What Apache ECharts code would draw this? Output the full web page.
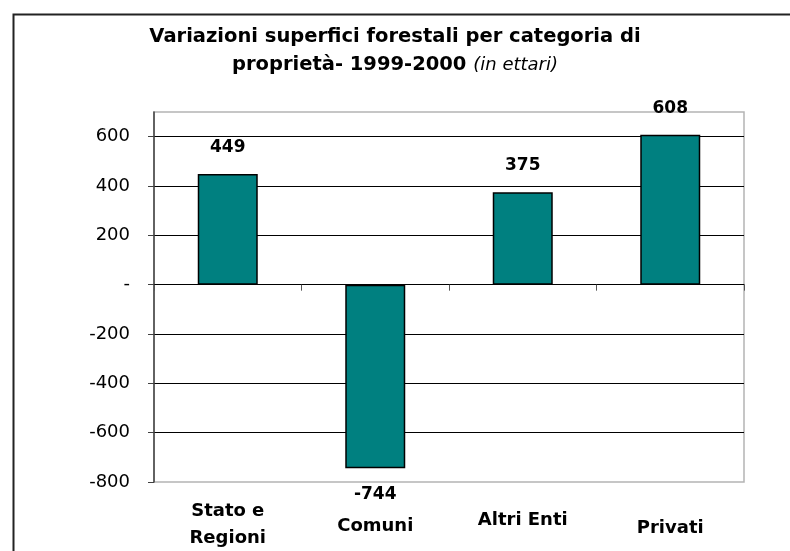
<!DOCTYPE html>
<html>
<head>
<meta charset="utf-8">
<title>Variazioni superfici forestali</title>
<script src="https://cdn.jsdelivr.net/npm/echarts@6/dist/echarts.min.js"></script>
<style>
  html, body { margin: 0; padding: 0; background: #fff; }
  #chart { width: 790px; height: 551px; }
</style>
</head>
<body>
<div id="chart"></div>
<script>
// dati
var categorie = ['Stato e\nRegioni', 'Comuni', 'Altri Enti', 'Privati'];
var variazioni = [449, -744, 375, 608];
var yMin = -800, yMax = 700, yStep = 200;

var font = 'DejaVu Sans, Verdana, sans-serif';

var chart = echarts.init(document.getElementById('chart'));
chart.setOption({
  backgroundColor: '#fff',
  animation: false,
  title: {
    left: 'center',
    top: 18,
    text: '{b|Variazioni superfici forestali per categoria di}\n{b|proprietà- 1999-2000 }{i|(in ettari)}',
    textStyle: {
      rich: {
        b: { fontFamily: font, fontSize: 19.5, fontWeight: 'bold', color: '#000', lineHeight: 28 },
        i: { fontFamily: font, fontSize: 18, fontStyle: 'italic', fontWeight: 'normal', color: '#000', lineHeight: 28 }
      }
    }
  },
  graphic: [{
    type: 'rect', left: 11, top: 12, silent: true,
    shape: { width: 820, height: 600 },
    style: { fill: 'none', stroke: '#222', lineWidth: 2 }
  }],
  grid: {
    left: 154, right: 46, top: 112, bottom: 69,
    show: true, borderColor: '#b4b4b4', borderWidth: 1.5
  },
  xAxis: [{
    type: 'category',
    data: categorie,
    axisLine: { onZero: true, lineStyle: { color: '#000', width: 1 } },
    axisTick: { show: true, length: 6, lineStyle: { color: '#555' } },
    axisLabel: { show: false },
    splitLine: { show: false }
  }, {
    type: 'category',
    position: 'bottom',
    data: categorie,
    axisLine: { show: false, onZero: false },
    axisTick: { show: false },
    axisLabel: {
      margin: 16,
      verticalAlign: 'top',
      formatter: function (v, i) { return '{s' + i + '|' + v + '}'; },
      rich: {
        s0: { fontFamily: font, fontSize: 18, fontWeight: 'bold', color: '#000', lineHeight: 27, align: 'center' },
        s1: { fontFamily: font, fontSize: 18, fontWeight: 'bold', color: '#000', lineHeight: 27, padding: [29, 0, 0, 0] },
        s2: { fontFamily: font, fontSize: 18, fontWeight: 'bold', color: '#000', lineHeight: 27, padding: [17, 0, 0, 0] },
        s3: { fontFamily: font, fontSize: 18, fontWeight: 'bold', color: '#000', lineHeight: 27, padding: [33, 0, 0, 0] }
      }
    }
  }],
  yAxis: {
    type: 'value',
    min: yMin, max: yMax, interval: yStep,
    axisLine: { show: true, lineStyle: { color: '#404040', width: 1.5 } },
    axisTick: { show: true, length: 6, lineStyle: { color: '#404040' } },
    axisLabel: {
      margin: 24,
      showMaxLabel: false,
      fontFamily: font, fontSize: 18, color: '#000',
      formatter: function (v) { return v === 0 ? '-' : (v > 600 ? '' : String(v)); }
    },
    splitLine: { show: true, showMinLine: false, showMaxLine: false, lineStyle: { color: '#000', width: 1 } }
  },
  series: [{
    type: 'bar',
    xAxisIndex: 0,
    barWidth: 60,
    data: variazioni.map(function (v) {
      return { value: v, label: { position: v < 0 ? 'bottom' : 'top' } };
    }),
    itemStyle: { color: '#008080', borderColor: '#000', borderWidth: 1.5 },
    label: {
      show: true,
      distance: 18,
      fontFamily: font, fontSize: 17, fontWeight: 'bold', color: '#000'
    }
  }]
});
</script>
</body>
</html>
